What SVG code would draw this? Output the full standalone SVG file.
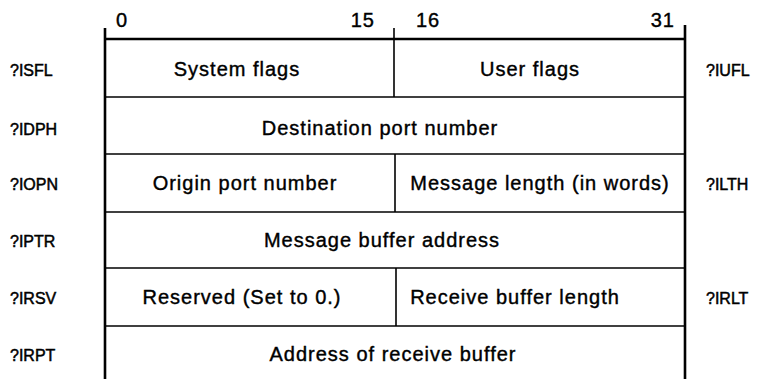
<svg xmlns="http://www.w3.org/2000/svg" width="767" height="379" viewBox="0 0 767 379">
<style>
.t{font-family:"Liberation Sans",Arial,sans-serif;font-size:20px;fill:#000;letter-spacing:1px;stroke:#000;stroke-width:0.4}
.m{text-anchor:middle}
.l{font-family:"Liberation Sans",Arial,sans-serif;font-size:16px;fill:#000;stroke:#000;stroke-width:0.5}
.ln{stroke:#000;stroke-width:1.6;fill:none}
.bd{stroke:#000;stroke-width:2.6;fill:none}
</style>
<rect width="767" height="379" fill="#fff"/>
<g id="header">
<text class="t" x="116" y="27">0</text>
<text class="t" x="375" y="27" text-anchor="end">15</text>
<text class="t" x="416" y="27">16</text>
<text class="t" x="675" y="27" text-anchor="end">31</text>
</g>
<g id="connectors">
<line class="bd" x1="105" y1="28" x2="105" y2="379"/>
<line class="bd" x1="685" y1="25" x2="685" y2="379"/>
<line class="bd" x1="105" y1="39" x2="685" y2="39"/>
<line class="ln" x1="394" y1="28" x2="394" y2="97"/>
<line class="ln" x1="105" y1="97" x2="685" y2="97"/>
<line class="ln" x1="105" y1="154" x2="685" y2="154"/>
<line class="ln" x1="395" y1="154" x2="395" y2="212"/>
<line class="ln" x1="105" y1="212" x2="685" y2="212"/>
<line class="ln" x1="105" y1="268" x2="685" y2="268"/>
<line class="ln" x1="396" y1="268" x2="396" y2="326"/>
<line class="ln" x1="105" y1="326" x2="685" y2="326"/>
</g>
<g id="row1">
<text class="l" x="10" y="76">?ISFL</text>
<text class="t m" x="237" y="76">System flags</text>
<text class="t m" x="530" y="76">User flags</text>
<text class="l" x="706" y="76">?IUFL</text>
</g>
<g id="row2">
<text class="l" x="10" y="135">?IDPH</text>
<text class="t m" x="380" y="135">Destination port number</text>
</g>
<g id="row3">
<text class="l" x="10" y="190">?IOPN</text>
<text class="t m" x="245" y="190">Origin port number</text>
<text class="t m" x="540" y="190">Message length (in words)</text>
<text class="l" x="706" y="190">?ILTH</text>
</g>
<g id="row4">
<text class="l" x="10" y="247">?IPTR</text>
<text class="t m" x="382" y="247">Message buffer address</text>
</g>
<g id="row5">
<text class="l" x="10" y="304">?IRSV</text>
<text class="t m" x="242" y="304">Reserved (Set to 0.)</text>
<text class="t m" x="515" y="304">Receive buffer length</text>
<text class="l" x="706" y="304">?IRLT</text>
</g>
<g id="row6">
<text class="l" x="10" y="361">?IRPT</text>
<text class="t m" x="393" y="361">Address of receive buffer</text>
</g>
</svg>
